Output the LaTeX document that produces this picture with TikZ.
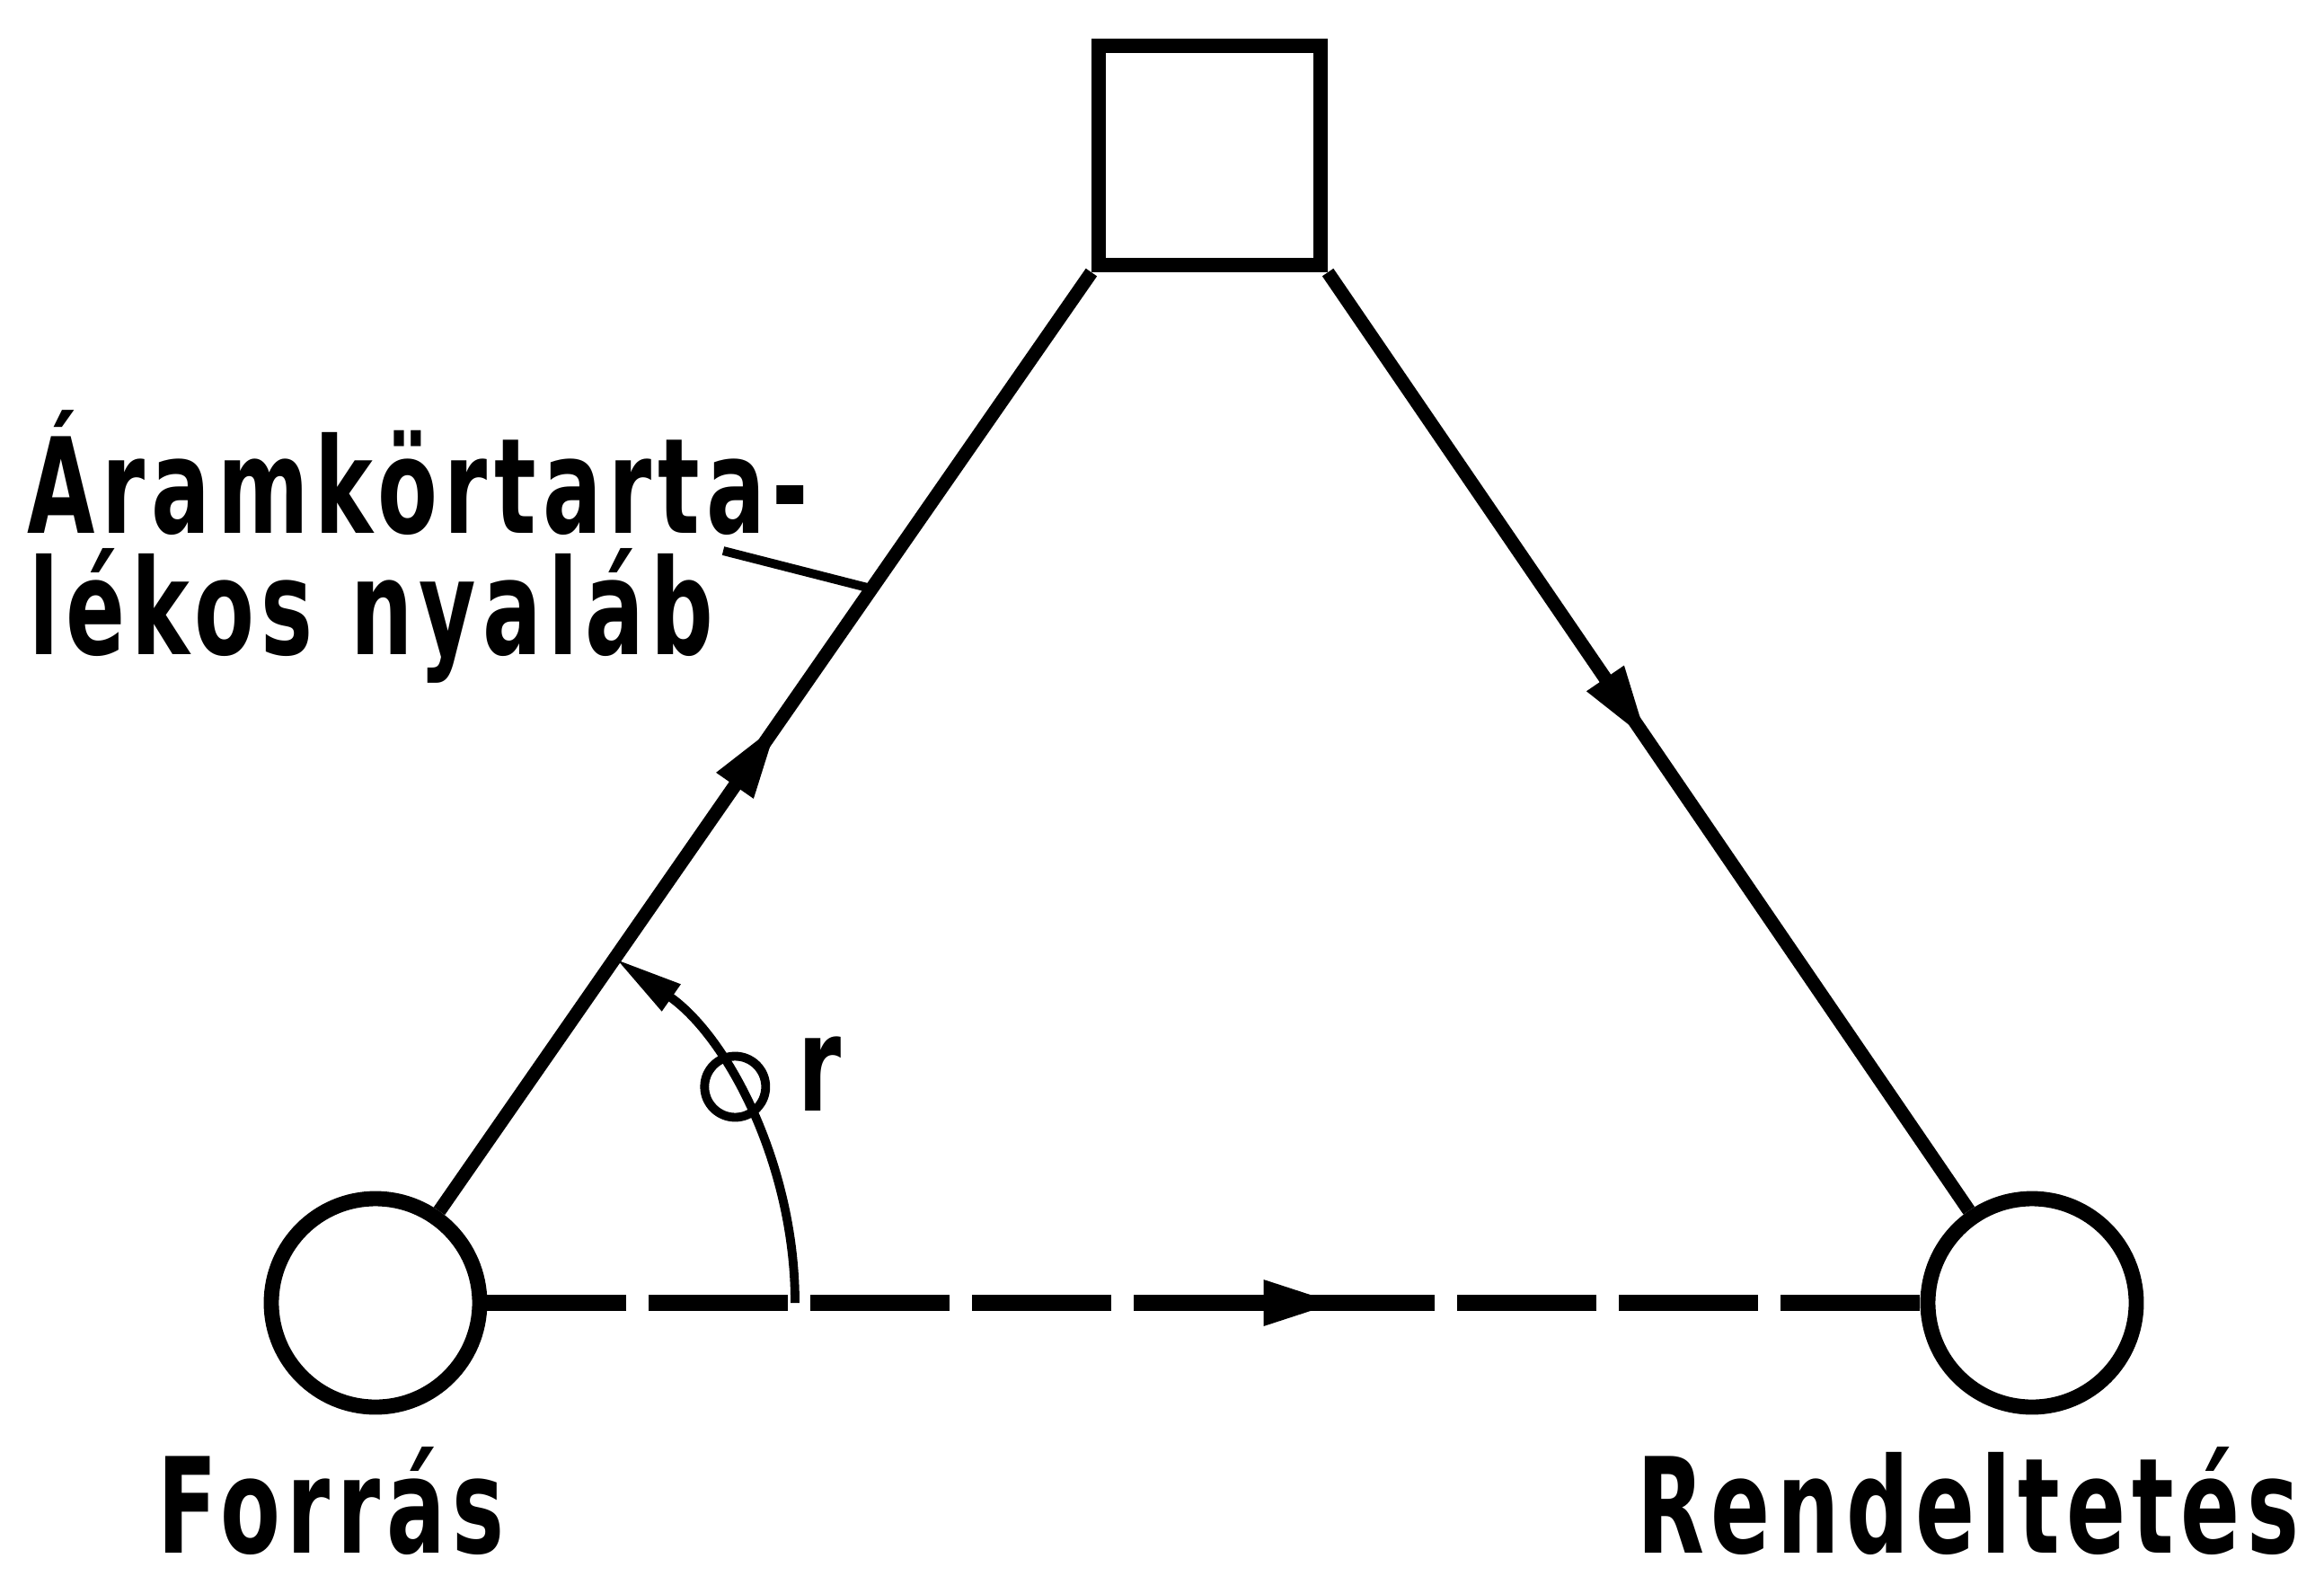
\documentclass[tikz,border=0pt]{standalone}
\usepackage{fontspec}
\newfontfamily\dinfont{DejaVu Sans}[FakeStretch=0.66, LetterSpace=5, BoldFont={DejaVu Sans Bold}]
\usetikzlibrary{arrows.meta,decorations.markings}

\begin{document}
\begin{tikzpicture}[main/.style = {draw, circle, line width=4.8pt, minimum size=23.2mm, inner sep=0pt},
        box/.style = {draw, line width=4.6pt, minimum width=24.7mm, minimum height=24.4mm, inner sep=0pt},
        beam/.style = {line width=4.3pt},
        txt/.style = {font=\dinfont\bfseries\fontsize{42}{48}\selectfont, inner sep=0pt},
        midarrow/.style = {postaction={decorate}, decoration={markings, mark=at position #1 with {\arrow{Triangle[length=8.5mm,width=4.6mm]}}}}]

            \useasboundingbox (0,0) rectangle (25.87,-17.63);

            \node[box] (R) at (13.465,-1.73) {};
            \node[main] (S) at (4.18,-14.5) {};
            \node[main] (D) at (22.62,-14.5) {};

            \draw[beam, midarrow=0.52] (S) -- coordinate[pos=0.663] (B) (R.south west);
            \draw[beam, midarrow=0.5] (R.south east) -- (D);
            \draw[beam, line width=5pt, dash pattern=on 15.5mm off 2.5mm, midarrow=0.595] (S) -- (D);

            % angle
            \draw[line width=2.8pt, -{Triangle[length=7.5mm,width=3.4mm]}] ([xshift=4.67cm]S.center) arc[start angle=0, end angle=55, radius=4.67cm];
            \node[draw, circle, line width=2.8pt, minimum size=6.8mm, inner sep=0pt] (phi) at ([shift={(31:4.67)}]S.center) {};
            \node[txt, anchor=base west] (ang) at ([xshift=6.9mm, yshift=-2.7mm]phi.center) {r};

            \node[txt, anchor=base west] (L1) at (0.30,-5.93) {Áramkörtarta-};
            \node[txt, anchor=base west] (L2) at (0.32,-7.28) {lékos nyaláb};
            \coordinate (lead) at (8.05,-6.13);
            \draw[line width=2.8pt] (lead) -- (B);

            \node[txt, anchor=base west] (SL) at (1.75,-17.28) {Forrás};
            \node[txt, anchor=base east] (DL) at (25.6,-17.28) {Rendeltetés};
        \end{tikzpicture}
\end{document}
